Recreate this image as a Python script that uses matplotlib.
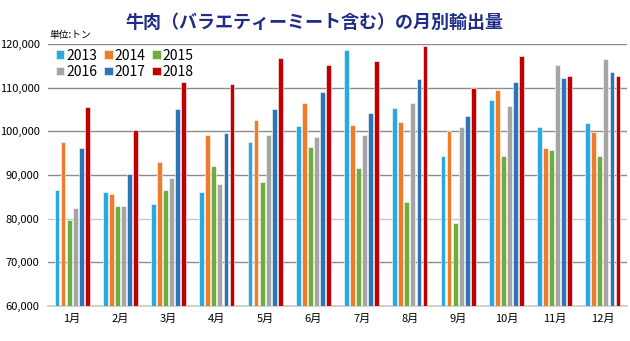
import matplotlib
matplotlib.use("Agg")
import matplotlib.pyplot as plt
import numpy as np

plt.rcParams["font.family"] = ["Noto Sans CJK JP", "DejaVu Sans"]

months = ["1月", "2月", "3月", "4月", "5月", "6月", "7月", "8月", "9月", "10月", "11月", "12月"]
years = ["2013", "2014", "2015", "2016", "2017", "2018"]

v2013 = [86470, 86100, 83350, 86170, 97570, 101300, 118700, 105260, 94440, 107250, 101070, 101990]
v2014 = [97570, 85640, 93070, 99090, 102680, 106500, 101530, 102220, 100000, 109470, 96200, 99860]
v2015 = [79700, 82800, 86560, 92150, 88390, 96340, 91620, 83820, 79020, 94440, 95650, 94440]
v2016 = [82340, 82800, 89400, 88000, 99250, 98630, 99090, 106500, 101010, 105880, 115260, 116640]
v2017 = [96270, 90320, 105130, 99630, 105040, 109090, 104280, 112060, 103590, 111370, 112220, 113660]
v2018 = [105650, 100390, 111210, 110850, 116870, 115200, 116110, 119540, 109840, 117320, 112590, 112590]

colors = ["#29a9e1", "#f07c2b", "#6cad3e", "#a5a5a5", "#2e75b6", "#c00000"]
series = [v2013, v2014, v2015, v2016, v2017, v2018]

fig = plt.figure(figsize=(6.3, 3.41), dpi=100)
ax = fig.add_axes([48 / 630, 35 / 341, 579 / 630, 262 / 341])

x = np.arange(len(months))
slot = 0.125
bars = []
for i, (vals, c, yr) in enumerate(zip(series, colors, years)):
    b = ax.bar(x + (i - 2.5) * slot, np.array(vals) - 60000, bottom=60000, width=0.1,
               color=c, edgecolor="white", linewidth=0.4, label=yr, zorder=3)
    bars.append(b)

ax.set_xlim(-0.5, 11.5)
ax.set_ylim(60000, 120000)
yt = np.arange(60000, 120001, 10000)
ax.set_yticks(yt)
ax.set_yticklabels([f"{v:,}" for v in yt], fontsize=8)
for v in yt[1:]:
    ax.axhline(v, color="#c8c8c8" if v == 80000 else "#8c8c8c", linewidth=1.0, zorder=1)
ax.set_xticks(x)
ax.set_xticklabels(months, fontsize=8)
ax.tick_params(length=0, pad=6)
for s in ["top", "right", "left"]:
    ax.spines[s].set_visible(False)
ax.spines["bottom"].set_color("#c8c8c8")
ax.spines["bottom"].set_linewidth(1.2)

# legend fills column-first, so reorder to get rows 2013-2015 / 2016-2018
order = [0, 3, 1, 4, 2, 5]
ax.legend([bars[i] for i in order], [years[i] for i in order],
          loc="upper left", ncol=3, frameon=False, fontsize=10, handlelength=0.6,
          handleheight=0.6, handletextpad=0.15, columnspacing=0.5, labelspacing=0.15,
          borderaxespad=0.0, bbox_to_anchor=(0.004, 1.003))

fig.text(0.5, 0.935, "牛肉（バラエティーミート含む）の月別輸出量", ha="center", va="center",
         fontsize=13, fontweight="bold", color="#1f2d86")
fig.text(49 / 630, 1 - 35 / 341, "単位:トン", ha="left", va="center", fontsize=7)

fig.savefig("out.png", dpi=100)
